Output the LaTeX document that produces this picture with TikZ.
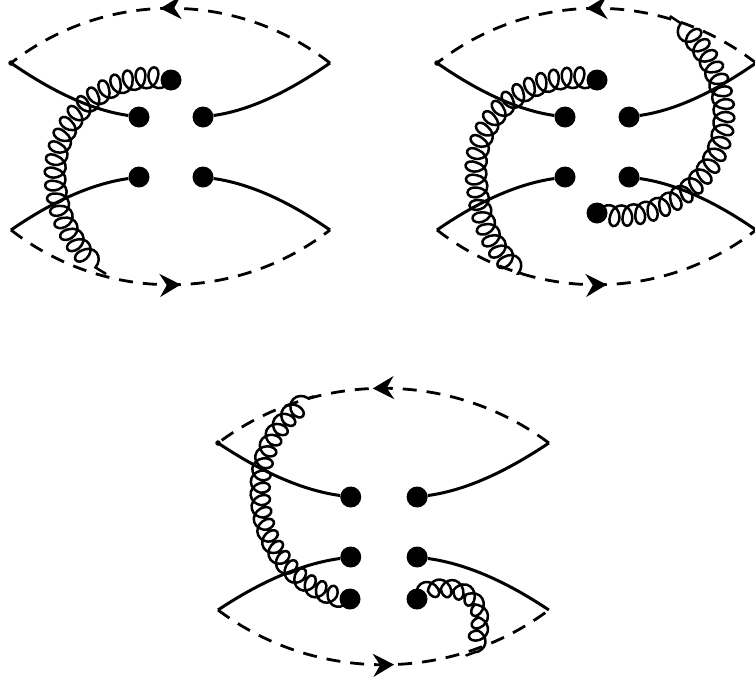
\documentclass[tikz,border=0pt]{standalone}
\usetikzlibrary{arrows.meta,decorations.markings,decorations.pathmorphing}
\tikzset{
  vertexdot/.style={circle, fill=black, minimum size=21pt, inner sep=0pt},
  enddot/.style={circle, fill=black, minimum size=5.5pt, inner sep=0pt},
  quarkline/.style={line width=3pt},
  scalarline/.style={line width=2.8pt, dash pattern=on 14pt off 10pt, postaction={decorate},
    decoration={markings, mark=at position 0.53 with {\arrow[solid]{Stealth[length=21pt,width=23pt,inset=7pt]}}}},
  gluonline/.style={line width=2.5pt, decorate,
    decoration={coil, aspect=0.78, amplitude=10pt, segment length=12.5pt, pre length=1pt, post length=1pt}},
}
\begin{document}
\begin{tikzpicture}[x=1pt, y=-1pt]
    \useasboundingbox (0,0) rectangle (755,683);

    % Drei gleiche Grundgraphen
    \foreach \d/\sx/\sy/\sc in {a/0/0/1, b/426/0/1, c/206.6/380/1.037} {
        \begin{scope}[shift={(\sx,\sy)}, xscale=\sc]
            \coordinate (\d tl) at (11,63);
            \coordinate (\d tr) at (330,63);
            \coordinate (\d bl) at (11,230);
            \coordinate (\d br) at (330,230);
            \node[vertexdot] (\d1) at (139,117) {};
            \node[vertexdot] (\d2) at (203,117) {};
            \node[vertexdot] (\d3) at (139,177) {};
            \node[vertexdot] (\d4) at (203,177) {};
            \node[enddot] (\d0) at (\d tl) {};

            \draw[quarkline] (\d tl) .. controls +(39,27) and +(-49,-7) .. (\d1);
            \draw[quarkline] (\d tr) .. controls +(-39,27) and +(49,-7) .. (\d2);
            \draw[quarkline] (\d bl) .. controls +(39,-27) and +(-49,7) .. (\d3);
            \draw[quarkline] (\d br) .. controls +(-39,-27) and +(49,7) .. (\d4);

            % Gestrichelte Boegen
            \draw[scalarline] (\d tr) .. controls +(-94,-73) and +(94,-73) .. (\d tl);
            \draw[scalarline] (\d bl) .. controls +(94,73) and +(-94,73) .. (\d br);
        \end{scope}
    }

    % Zusaetzliche Vertizes
    \node[vertexdot] (a5) at (171,80) {};
    \node[vertexdot] (b5) at (597,80) {};
    \node[vertexdot] (b6) at (597,213) {};
    \node[vertexdot] (c5) at (350,599) {};
    \node[vertexdot] (c6) at (417,599) {};

    % Endpunkte der Gluonen
    \coordinate (ga) at (106,274);
    \coordinate (gb) at (522,274);
    \coordinate (gd) at (670,16);
    \coordinate (ge) at (314,396);
    \coordinate (gf) at (466,656);

    % Gluonen
    \draw[gluonline] (a5.center) .. controls (110,70) and (56,115) .. (56,175) .. controls (56,215) and (75,250) .. (ga);
    \draw[gluonline] (b5.center) .. controls (535,70) and (477,110) .. (477,170) .. controls (477,215) and (492,250) .. (gb);
    \draw[gluonline] (b6.center) .. controls (660,225) and (723,180) .. (723,115) .. controls (723,75) and (700,40) .. (gd);
    \draw[gluonline] (c5.center) .. controls (300,590) and (261,550) .. (261,490) .. controls (261,450) and (280,420) .. (ge);
    \draw[gluonline] (c6.center) .. controls (435,585) and (477,585) .. (477,625) .. controls (477,637) and (473,648) .. (gf);
\end{tikzpicture}
\end{document}
